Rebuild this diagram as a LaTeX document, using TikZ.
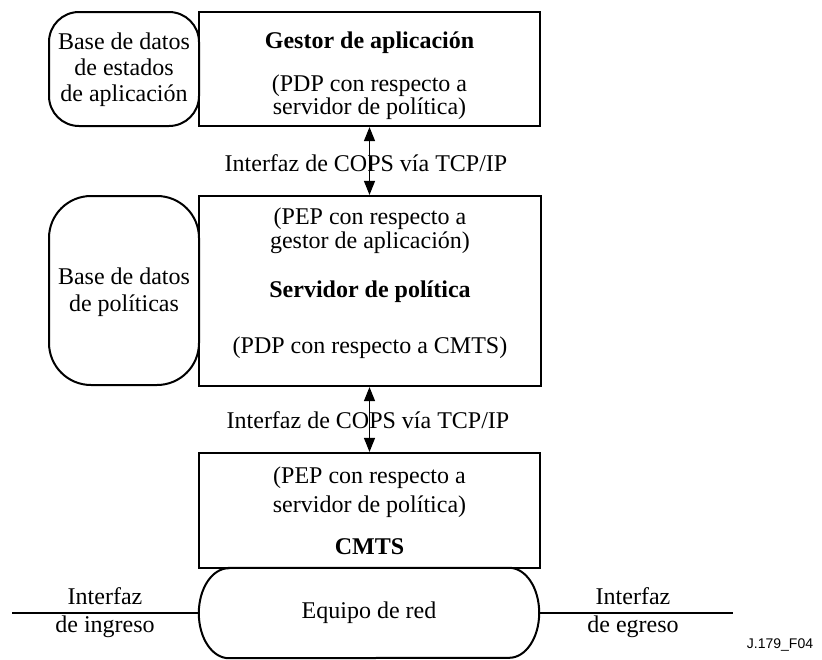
\documentclass[tikz,border=0pt]{standalone}
\usepackage{fontspec}
\setmainfont{Liberation Serif}
\newfontfamily\labelsans{Liberation Sans}
\usetikzlibrary{arrows.meta}
\begin{document}
\begin{tikzpicture}[x=1pt,y=-1pt,
  box/.style={draw, line width=2.2pt, inner sep=0pt},
  dbbox/.style={draw, line width=2pt, inner sep=0pt},
  txt/.style={font=\fontsize{24}{26}\selectfont, align=center, inner sep=0pt},
  btxt/.style={font=\fontsize{24}{26}\selectfont\bfseries, align=center, inner sep=0pt},
  arr/.style={{Triangle[width=11pt,length=14pt]}-{Triangle[width=11pt,length=14pt]}, line width=1.2pt},
  wire/.style={line width=2pt}]
\useasboundingbox (0,0) rectangle (822,659);

% boxes
\node[box, minimum width=341pt, minimum height=114pt] (gestor) at (369.5,69) {};
\node[dbbox, rounded corners=30pt, minimum width=150pt, minimum height=114pt] (appdb) at (124,69) {};
\node[box, minimum width=342pt, minimum height=190pt] (server) at (370,291) {};
\node[dbbox, rounded corners=42pt, minimum width=150pt, minimum height=189pt] (poldb) at (124,290.5) {};
\node[box, minimum width=341pt, minimum height=115pt] (cmts) at (369.5,510.5) {};
\node[txt, minimum width=340pt, minimum height=90pt] (equipo) at (369,613) {Equipo de red};
\draw[wire] ([xshift=30pt]equipo.north west) -- ([xshift=-30pt]equipo.north east)
  arc[start angle=90, end angle=-90, x radius=30pt, y radius=45pt]
  -- ([xshift=30pt]equipo.south west)
  arc[start angle=270, end angle=90, x radius=30pt, y radius=45pt] -- cycle;

% texts
\node[btxt] (gtitle) at (369.5,43) {Gestor de aplicación};
\node[txt, font=\fontsize{24}{23}\selectfont] (gsub) at (369.5,97.5) {(PDP con respecto a\\servidor de política)};
\node[txt] (apptxt) at (124,70) {Base de datos\\de estados\\de aplicación};
\node[txt] (cops1) at (366,163) {Interfaz de COPS vía TCP/IP};
\node[txt, font=\fontsize{24}{24}\selectfont] (ssub1) at (370,231) {(PEP con respecto a\\gestor de aplicación)};
\node[btxt] (stitle) at (370,292) {Servidor de política};
\node[txt] (ssub2) at (370,348) {(PDP con respecto a CMTS)};
\node[txt, font=\fontsize{24}{27}\selectfont] (poltxt) at (124,292) {Base de datos\\de políticas};
\node[txt] (cops2) at (368,420) {Interfaz de COPS vía TCP/IP};
\node[txt, font=\fontsize{24}{29}\selectfont] (csub) at (369.5,492) {(PEP con respecto a\\servidor de política)};
\node[btxt] (ctitle) at (369.5,547) {CMTS};
\node[txt, font=\fontsize{24}{28}\selectfont] (ingreso) at (105,613) {Interfaz\\de ingreso};
\node[txt, font=\fontsize{24}{28}\selectfont] (egreso) at (633,613) {Interfaz\\de egreso};
\node[inner sep=0pt, font=\labelsans\fontsize{14}{16}\selectfont] (figid) at (780,645) {J.179\_F04};

% connectors
\coordinate (inL) at (12,613);
\coordinate (outR) at (733,613);
\draw[wire] (inL) -- (equipo.west);
\draw[wire] (equipo.east) -- (outR);
\draw[arr] (gestor.south) -- (gestor.south |- server.north);
\draw[arr] (server.south -| gestor.south) -- (gestor.south |- cmts.north);
\end{tikzpicture}
\end{document}
